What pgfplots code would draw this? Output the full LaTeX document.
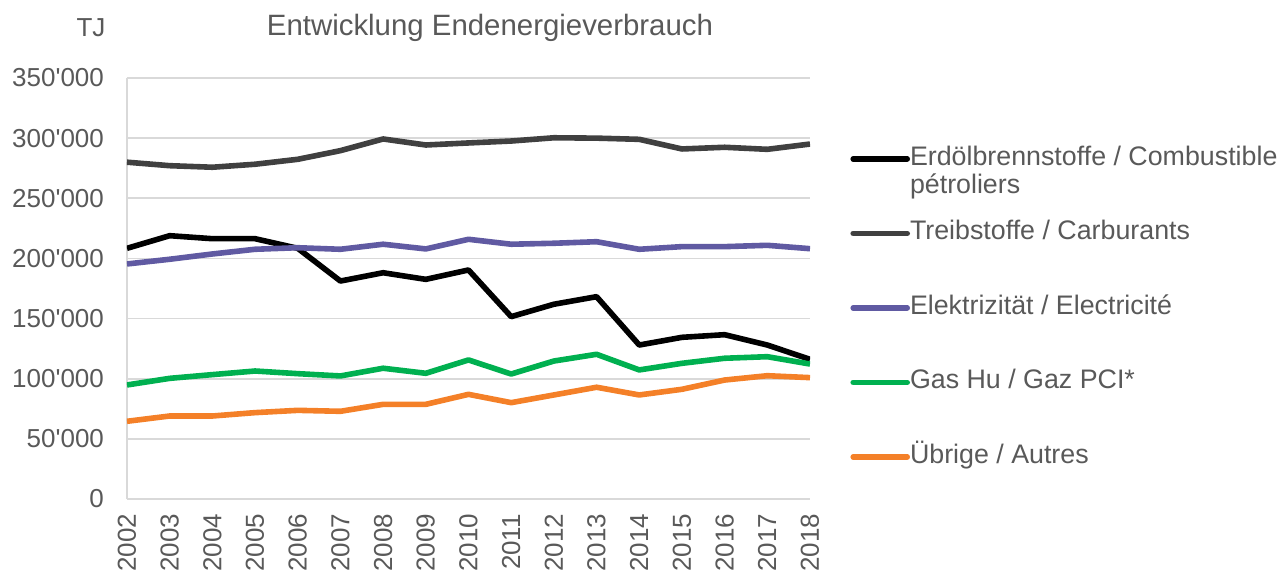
\documentclass[border=0pt]{standalone}
\usepackage{pgfplots}
\pgfplotsset{compat=1.18}
\usepackage{fontspec}
\setmainfont{Liberation Sans}
\definecolor{txtgray}{RGB}{89,89,89}
\definecolor{gridgray}{RGB}{217,217,217}
\definecolor{ctreib}{RGB}{64,64,64}
\definecolor{celek}{RGB}{96,90,162}
\definecolor{cgas}{RGB}{0,176,80}
\definecolor{corange}{RGB}{244,128,40}
\begin{document}
\begin{tikzpicture}
\useasboundingbox (-63.5pt,-38.5pt) rectangle (575pt,249.5pt);
\begin{axis}[
  width=341.5pt, height=210.5pt, scale only axis,
  xmin=2002, xmax=2018, ymin=0, ymax=350000,
  xtick={2002,...,2018}, ytick={0,50000,...,350000},
  scaled y ticks=false,
  major tick length=0pt,
  axis line style={gridgray, line width=0.8pt},
  axis x line*=bottom, axis y line*=left,
  ymajorgrids, grid style={gridgray, line width=0.8pt},
  tick label style={font=\fontsize{13}{15}\selectfont, text=txtgray},
  /pgf/number format/assume math mode=true,
  y tick label style={/pgf/number format/1000 sep={\textquotesingle}, /pgf/number format/fixed, xshift=-8pt},
  x tick label style={/pgf/number format/1000 sep={}, rotate=90, anchor=east},
  xticklabel shift=4pt,
  legend cell align=left,
  legend image code/.code={\draw[#1, line cap=round] (0pt,0pt) -- (27pt,0pt);},
  legend style={at={(axis description cs:1,1)}, anchor=north west, xshift=20pt, yshift=-34pt,
    draw=none, fill=none, inner sep=0pt, row sep=24.75pt,
    font=\fontsize{13.4}{14}\selectfont, text=txtgray,
    nodes={inner sep=0pt, text height=9.5pt, text depth=3pt, inner xsep=0pt}},
  every axis plot/.append style={line width=2.8pt, line join=round},
]
\addplot[black] coordinates {(2002,208400)(2003,218900)(2004,216400)(2005,216400)(2006,208400)(2007,181200)(2008,188100)(2009,182600)(2010,190400)(2011,151600)(2012,161900)(2013,168200)(2014,128000)(2015,134400)(2016,136600)(2017,128000)(2018,116100)};
\addlegendentry{\smash{\begin{tabular}[t]{@{}l@{}}Erdölbrennstoffe / Combustible\\pétroliers\end{tabular}}}
\addplot[ctreib] coordinates {(2002,280000)(2003,277100)(2004,275800)(2005,278300)(2006,282400)(2007,289600)(2008,299300)(2009,294300)(2010,296000)(2011,297600)(2012,300300)(2013,300000)(2014,299000)(2015,291000)(2016,292400)(2017,290700)(2018,295100)};
\addlegendentry{Treibstoffe / Carburants}
\addplot[celek] coordinates {(2002,195400)(2003,199300)(2004,203700)(2005,207600)(2006,208900)(2007,207600)(2008,211800)(2009,207900)(2010,215900)(2011,211800)(2012,212600)(2013,213900)(2014,207600)(2015,209800)(2016,209800)(2017,210900)(2018,208100)};
\addlegendentry{Elektrizität / Electricité}
\addplot[cgas] coordinates {(2002,94800)(2003,100300)(2004,103400)(2005,106400)(2006,104200)(2007,102300)(2008,108700)(2009,104500)(2010,115600)(2011,103900)(2012,114700)(2013,120300)(2014,107300)(2015,112800)(2016,117000)(2017,118300)(2018,112200)};
\addlegendentry{Gas Hu / Gaz PCI*}
\addplot[corange] coordinates {(2002,64600)(2003,69000)(2004,69000)(2005,71800)(2006,73700)(2007,72900)(2008,78700)(2009,78700)(2010,87000)(2011,80100)(2012,86500)(2013,92900)(2014,86500)(2015,91200)(2016,98900)(2017,102500)(2018,100900)};
\addlegendentry{Übrige / Autres}
\end{axis}
\node[text=txtgray, font=\fontsize{14.7}{16}\selectfont] at (181.5pt,235.5pt) {Entwicklung Endenergieverbrauch};
\node[text=txtgray, font=\fontsize{13}{15}\selectfont] at (-18pt,235.5pt) {TJ};
\end{tikzpicture}
\end{document}
